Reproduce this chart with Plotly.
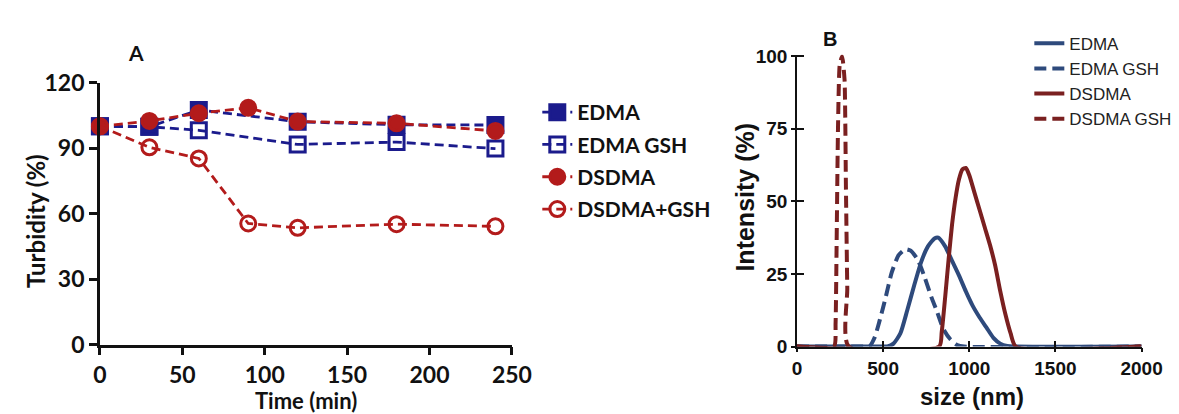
import plotly.graph_objects as go

# ---------- Panel A data ----------
time_edma = [0, 30, 60, 120, 180, 240]
edma = [100, 99.8, 107.5, 102.1, 100.7, 100.6]
edma_gsh = [100, 99.8, 98.2, 91.7, 92.8, 89.8]
time_dsdma = [0, 30, 60, 90, 120, 180, 240]
dsdma = [100, 102.5, 106, 108.5, 102.2, 101.4, 97.9]
dsdma_gsh = [100, 90.4, 85.3, 55.5, 53.5, 55.2, 54.2]
ticks_a_x = [0, 50, 100, 150, 200, 250]
ticks_a_y = [0, 30, 60, 90, 120]

# ---------- Panel B data ----------
x_edma = [0, 500, 525, 560, 600, 640, 680, 720, 760, 800, 820, 860, 900, 940, 980, 1020, 1060, 1100, 1140, 1180, 1220, 1260, 2000]
y_edma = [0, 0, 0, 1, 4.5, 12.5, 21, 29, 34.5, 37.3, 37.5, 34.5, 29.5, 24.5, 19, 14, 10, 6.5, 3, 1, 0.2, 0, 0]
x_edma_gsh = [0, 400, 420, 450, 480, 515, 550, 590, 630, 660, 700, 740, 780, 810, 850, 890, 930, 970, 2000]
y_edma_gsh = [0, 0, 0, 3, 9, 17, 25.5, 31.5, 33.5, 33, 30, 24, 17, 12.5, 6, 2.5, 0.5, 0, 0]
x_dsdma = [0, 825, 840, 860, 880, 900, 920, 940, 960, 980, 1000, 1030, 1060, 1090, 1120, 1150, 1180, 1210, 1240, 1270, 2000]
y_dsdma = [0, 0, 5, 17, 30, 42, 51, 57.5, 61, 61.5, 59, 53, 47, 41, 35, 28, 19, 11, 4.5, 0, 0]
x_dsdma_gsh = [0, 215, 224, 230, 238, 248, 262, 276, 284, 292, 300, 2000]
y_dsdma_gsh = [0, 0, 8, 35, 75, 97, 100, 92, 55, 20, 0, 0]
ticks_b_x = [0, 500, 1000, 1500, 2000]
ticks_b_y = [0, 25, 50, 75, 100]

BLUE_A = "#1b1b8c"
RED_A = "#b31b1b"
BLUE_B = "#2e4a7c"
RED_B = "#7a2020"

W, H = 1179, 414
fig = go.Figure()

def add_a(x, y, name, color, symbol, lg):
    fig.add_trace(go.Scatter(
        x=x, y=y, name=name, mode="lines+markers",
        line=dict(color=color, width=2.8, dash="9px,5px"),
        marker=dict(symbol=symbol, size=15, color=color,
                    line=dict(color=color, width=3)),
        xaxis="x", yaxis="y", legend="legend", legendgroup=lg,
        cliponaxis=False,
    ))

add_a(time_edma, edma, "EDMA", BLUE_A, "square", "a1")
add_a(time_edma, edma_gsh, "EDMA GSH", BLUE_A, "square-open", "a2")
add_a(time_dsdma, dsdma, "DSDMA", RED_A, "circle", "a3")
add_a(time_dsdma, dsdma_gsh, "DSDMA+GSH", RED_A, "circle-open", "a4")

def add_b(x, y, name, color, dash, lg, sm=0.6):
    fig.add_trace(go.Scatter(
        x=x, y=y, name=name, mode="lines",
        line=dict(color=color, width=4, dash=dash, shape="spline", smoothing=sm),
        xaxis="x2", yaxis="y2", legend="legend2", legendgroup=lg,
    ))

add_b(x_edma, y_edma, "EDMA", BLUE_B, "solid", "b1")
add_b(x_edma_gsh, y_edma_gsh, "EDMA GSH", BLUE_B, "12px,6px", "b2")
add_b(x_dsdma, y_dsdma, "DSDMA", RED_B, "solid", "b3")
add_b(x_dsdma_gsh, y_dsdma_gsh, "DSDMA GSH", RED_B, "12px,6px", "b4", sm=0.5)

# invisible trace to carry the inside-tick overlay axes of panel B
fig.add_trace(go.Scatter(x=[0], y=[0], mode="markers", marker=dict(opacity=0),
                         xaxis="x3", yaxis="y3", showlegend=False, hoverinfo="skip"))

FA = "Lato, Open Sans, sans-serif"
FB = "Liberation Sans, Arial, sans-serif"

dom_ax = [87/W, 509/W]
dom_ay = [1-345/H, 1-64/H]
dom_bx = [801/W, 1154/W]
dom_by = [1-347/H, 1-34/H]

common_a = dict(showline=True, linecolor="#111", linewidth=2.6, ticks="outside", ticklen=8,
                tickwidth=2.6, tickcolor="#111", showgrid=False, zeroline=False,
                tickfont=dict(family=FA, size=23, color="#111", weight="bold"))
common_b = dict(showline=True, linecolor="#111", linewidth=1.6, ticks="outside", ticklen=4,
                tickwidth=1.6, tickcolor="#111", showgrid=False, zeroline=False,
                tickfont=dict(family=FB, size=19, color="#111", weight="bold"))

fig.update_layout(
    width=W, height=H,
    margin=dict(l=0, r=0, t=0, b=0),
    plot_bgcolor="rgba(0,0,0,0)", paper_bgcolor="white",
    xaxis=dict(domain=dom_ax, range=[0, 250], tickvals=ticks_a_x, anchor="y", **common_a),
    yaxis=dict(domain=dom_ay, range=[0, 120], tickvals=ticks_a_y, anchor="x", **common_a),
    xaxis2=dict(domain=dom_bx, range=[0, 2000], tickvals=ticks_b_x, anchor="y2", **common_b),
    yaxis2=dict(domain=dom_by, range=[0, 100.5], tickvals=ticks_b_y, anchor="x2", **common_b),
    xaxis3=dict(domain=dom_bx, range=[0, 2000], tickvals=ticks_b_x, anchor="y3",
                showline=False, ticks="inside", ticklen=6, tickwidth=1.6, tickcolor="#111",
                showticklabels=False, showgrid=False, zeroline=False),
    yaxis3=dict(domain=dom_by, range=[0, 100.5], tickvals=ticks_b_y, anchor="x3",
                showline=False, ticks="inside", ticklen=7, tickwidth=1.6, tickcolor="#111",
                showticklabels=False, showgrid=False, zeroline=False),
    legend=dict(x=535/W, y=1-74/H, xanchor="left", yanchor="top",
                font=dict(family=FA, size=21, color="#111", weight="bold"),
                tracegroupgap=2, bgcolor="rgba(0,0,0,0)"),
    legend2=dict(x=1039/W, y=1-3/H, xanchor="left", yanchor="top",
                 font=dict(family=FB, size=17, color="#222"),
                 tracegroupgap=0, bgcolor="rgba(0,0,0,0)"),
    showlegend=True,
)

ann = [
    dict(text="A", x=124, y=32, font=dict(family=FA, size=21, color="#111", weight="bold")),
    dict(text="Turbidity (%)", x=21, y=213, textangle=-90,
         font=dict(family=FA, size=24, color="#111", weight="bold")),
    dict(text="Time (min)", x=298, y=405,
         font=dict(family=FA, size=22, color="#111", weight="bold")),
    dict(text="B", x=835, y=17, font=dict(family=FB, size=20, color="#111", weight="bold")),
    dict(text="Intensity (%)", x=748, y=187, textangle=-90,
         font=dict(family=FB, size=25, color="#111", weight="bold")),
    dict(text="size (nm)", x=980, y=401,
         font=dict(family=FB, size=24, color="#111", weight="bold")),
]
for a in ann:
    fig.add_annotation(text=a["text"], x=a["x"]/W, y=1-a["y"]/H, xref="paper", yref="paper",
                       showarrow=False, xanchor="center", yanchor="middle",
                       textangle=a.get("textangle", 0), font=a["font"])

fig.write_html("out.html")
